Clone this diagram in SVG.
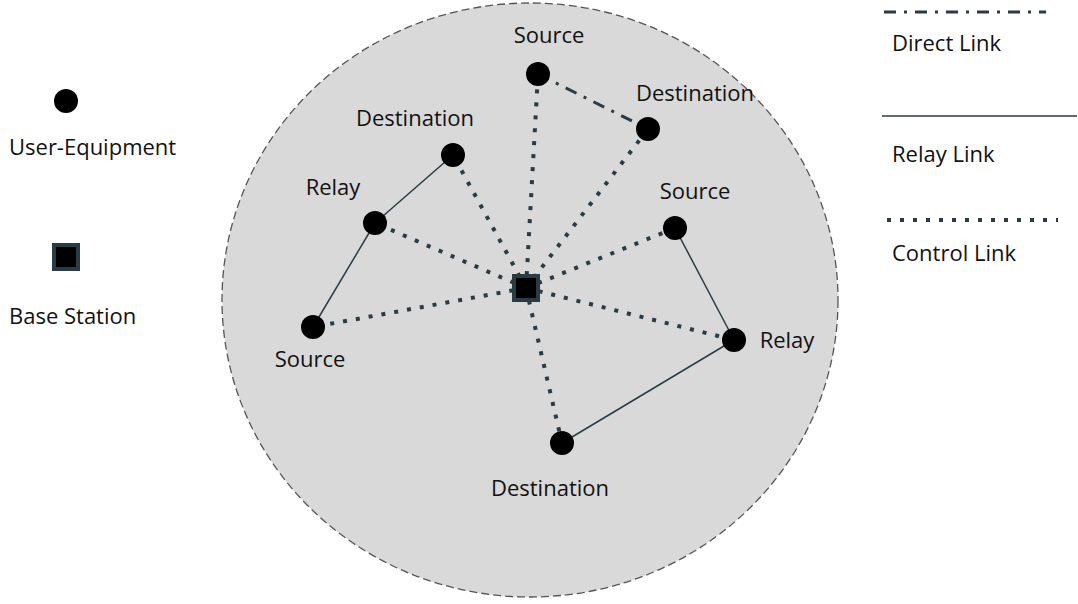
<svg xmlns="http://www.w3.org/2000/svg" width="1078" height="604" viewBox="0 0 1078 604">
<style>
text{font-family:"Open Sans","Liberation Sans",sans-serif;font-size:22px;fill:#111}
.ue{fill:#000}
.bs{fill:#000;stroke:#2b3b44;stroke-width:4}
.ctrl{stroke:#2b3b44;stroke-width:4;stroke-dasharray:4 9;fill:none}
.relay{stroke:#2b3b44;stroke-width:1.5;fill:none}
.direct{stroke:#2b3b44;stroke-width:3;stroke-dasharray:12 8 3 8;fill:none}
</style>
<rect width="1078" height="604" fill="#fff"/>
<ellipse id="cell" cx="530" cy="300" rx="308" ry="297" fill="#d9d9d9" stroke="#555" stroke-width="1.3" stroke-dasharray="8 4"/>
<g id="connectors">
<line class="ctrl" x1="526" y1="288" x2="538" y2="74"/>
<line class="ctrl" x1="526" y1="288" x2="648" y2="129"/>
<line class="ctrl" x1="526" y1="288" x2="453" y2="155"/>
<line class="ctrl" x1="526" y1="288" x2="375" y2="223"/>
<line class="ctrl" x1="526" y1="288" x2="313" y2="327"/>
<line class="ctrl" x1="526" y1="288" x2="675" y2="228"/>
<line class="ctrl" x1="526" y1="288" x2="734" y2="340"/>
<line class="ctrl" x1="526" y1="288" x2="562" y2="443"/>
<line class="relay" x1="375" y1="223" x2="453" y2="155"/>
<line class="relay" x1="375" y1="223" x2="313" y2="327"/>
<line class="relay" x1="675" y1="228" x2="734" y2="340"/>
<line class="relay" x1="734" y1="340" x2="562" y2="443"/>
<line class="direct" x1="538" y1="74" x2="648" y2="129"/>
</g>
<g id="bs"><rect class="bs" x="514" y="276" width="24" height="24"/></g>
<g id="src1"><circle class="ue" cx="538" cy="74" r="12"/><text x="549" y="43" text-anchor="middle">Source</text></g>
<g id="dst1"><circle class="ue" cx="648" cy="129" r="12"/><text x="695" y="101" text-anchor="middle">Destination</text></g>
<g id="dst2"><circle class="ue" cx="453" cy="155" r="12"/><text x="415" y="126" text-anchor="middle">Destination</text></g>
<g id="rly1"><circle class="ue" cx="375" cy="223" r="12"/><text x="333" y="195" text-anchor="middle">Relay</text></g>
<g id="src2"><circle class="ue" cx="313" cy="327" r="12"/><text x="310" y="367" text-anchor="middle">Source</text></g>
<g id="src3"><circle class="ue" cx="675" cy="228" r="12"/><text x="695" y="199" text-anchor="middle">Source</text></g>
<g id="rly2"><circle class="ue" cx="734" cy="340" r="12"/><text x="787" y="348" text-anchor="middle">Relay</text></g>
<g id="dst3"><circle class="ue" cx="562" cy="443" r="12"/><text x="550" y="496" text-anchor="middle">Destination</text></g>
<g id="legend-ue"><circle class="ue" cx="66" cy="101" r="12"/><text x="9" y="155">User-Equipment</text></g>
<g id="legend-bs"><rect class="bs" x="54" y="245" width="24" height="24"/><text x="9" y="324">Base Station</text></g>
<g id="legend-direct"><line class="direct" x1="884" y1="12" x2="1046" y2="12"/><text x="892" y="51">Direct Link</text></g>
<g id="legend-relay"><line class="relay" x1="882" y1="116" x2="1077" y2="116"/><text x="892" y="162">Relay Link</text></g>
<g id="legend-ctrl"><line class="ctrl" x1="887" y1="220" x2="1058" y2="220"/><text x="892" y="261">Control Link</text></g>
</svg>
